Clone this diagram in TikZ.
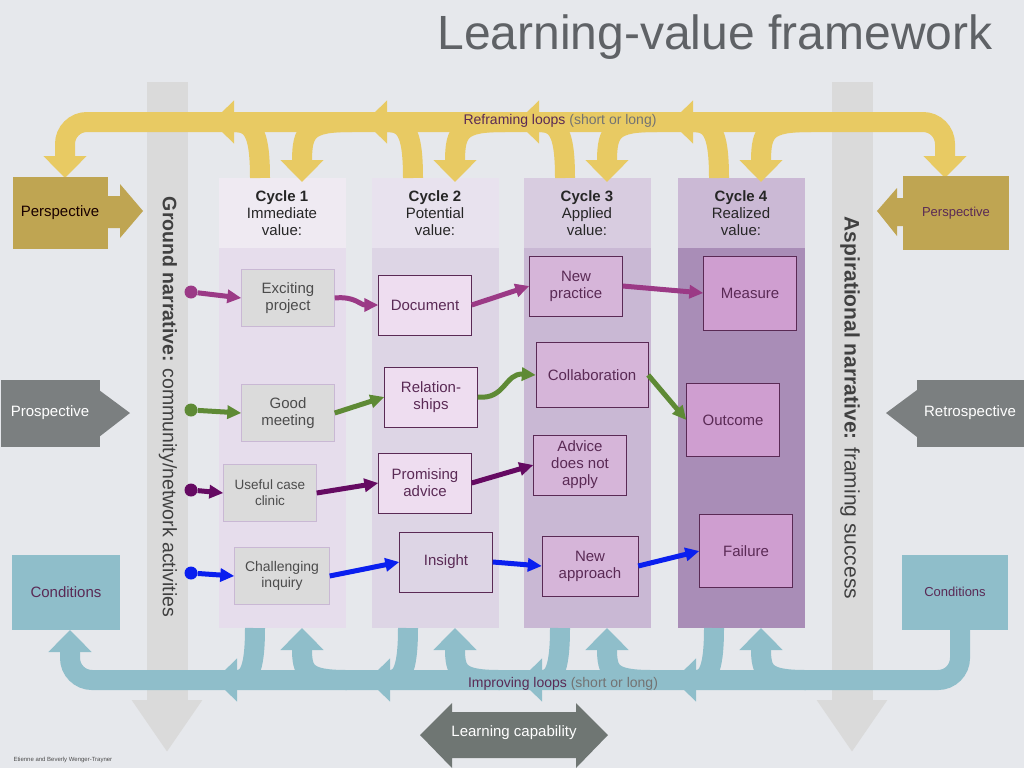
\documentclass[tikz,border=0pt]{standalone}
\usepackage{fontspec}
\setmainfont{Liberation Sans}
\usetikzlibrary{arrows.meta}
\definecolor{bgc}{HTML}{E6E8EC}
\definecolor{titc}{HTML}{5F6266}
\definecolor{yl}{HTML}{E8CA63}
\definecolor{bl}{HTML}{8FBECA}
\definecolor{gbar}{HTML}{DADADA}
\definecolor{persp}{HTML}{BFA552}
\definecolor{prosp}{HTML}{7B7F80}
\definecolor{hdA}{HTML}{EFEAF2}\definecolor{bdA}{HTML}{E6DDEC}
\definecolor{hdB}{HTML}{E8E2EE}\definecolor{bdB}{HTML}{DDD5E5}
\definecolor{hdC}{HTML}{D8CCE0}\definecolor{bdC}{HTML}{C9B8D4}
\definecolor{hdD}{HTML}{CBB9D5}\definecolor{bdD}{HTML}{A98DB7}
\definecolor{nodeB}{HTML}{EEDDF0}
\definecolor{nodeC}{HTML}{D6B5D9}
\definecolor{nodeD}{HTML}{CF9ED0}
\definecolor{rowa}{HTML}{9B3A86}
\definecolor{rowb}{HTML}{5E8A35}
\definecolor{rowc}{HTML}{650A62}
\definecolor{rowd}{HTML}{0A1FEF}
\definecolor{txt}{HTML}{5A2A55}
\definecolor{capc}{HTML}{6F7673}
\tikzset{
  yloop/.style={draw=yl,line width=20pt,rounded corners=22pt},
  bloop/.style={draw=bl,line width=20pt,rounded corners=22pt},
  tip/.style={-{Triangle[width=42pt,length=22pt]}},
  gray box/.style={draw=bdC,fill=black!14,minimum width=93pt,minimum height=57pt,align=center,text=black!70,font=\fontsize{15}{17}\selectfont},
  pink box/.style={draw=txt,fill=#1,minimum width=93pt,minimum height=60pt,align=center,text=txt,font=\fontsize{15}{17}\selectfont},
  head/.style={align=center,font=\fontsize{15}{17}\selectfont,text=black!85},
  flow/.style={line width=5pt,-{Triangle[width=13pt,length=14pt]}},
  dot/.style={circle,fill=#1,inner sep=0pt,minimum size=13pt},
  side/.style={fill=#1,minimum width=95pt,minimum height=72pt,inner sep=0pt,font=\fontsize{15}{17}\selectfont}
}
\begin{document}
\begin{tikzpicture}[x=1pt,y=-1pt]
\useasboundingbox (0,0) rectangle (1024,768);
\fill[bgc] (0,0) rectangle (1024,768);
\node[anchor=east,text=titc,font=\fontsize{48}{52}\selectfont] (title) at (996,37) {Learning-value framework};
% grey narrative bars
\draw[gbar,line width=41pt,-{Triangle[width=67pt,length=52pt]}] (167,82) -- (167,752);
\draw[gbar,line width=41pt,-{Triangle[width=67pt,length=52pt]}] (852,82) -- (852,752);
% columns
\foreach \xa/\hd/\bd in {219/hdA/bdA,372/hdB/bdB,524/hdC/bdC,678/hdD/bdD}{
  \fill[\bd] (\xa,248) rectangle ++(127,380);
  \fill[\hd] (\xa,178) rectangle ++(127,70);
}
\node[head] (c1) at (282,213) {\textbf{Cycle 1}\\Immediate\\value:};
\node[head] (c2) at (435,213) {\textbf{Cycle 2}\\Potential\\value:};
\node[head] (c3) at (587,213) {\textbf{Cycle 3}\\Applied\\value:};
\node[head] (c4) at (741,213) {\textbf{Cycle 4}\\Realized\\value:};
% reframing loops
\draw[yloop,tip] (520,122) -- (65,122) -- (65,178);
\draw[yloop,tip] (520,122) -- (945,122) -- (945,178);
\foreach \c in {282,435,587,741}{
  \draw[yloop,rounded corners=0pt,tip] (\c-22,178) .. controls (\c-22,130) and (\c-30,122) .. (\c-70,122);
  \draw[yloop,rounded corners=0pt,tip] (\c+70,122) .. controls (\c+26,122) and (\c+20,130) .. (\c+20,182);
}
% improving loops
\draw[bloop,tip] (960,630) -- (960,680) -- (70,680) -- (70,630);
\foreach \c in {282,435,587,741}{
  \draw[bloop,rounded corners=0pt,tip] (\c-27,628) .. controls (\c-27,675) and (\c-35,680) .. (\c-67,680);
  \draw[bloop,rounded corners=0pt,tip] (\c+65,680) .. controls (\c+24,680) and (\c+20,672) .. (\c+20,628);
}
\node[font=\fontsize{14}{16}\selectfont,text=txt] (reframe) at (560,121) {Reframing loops \textcolor{black!55}{(short or long)}};
\node[font=\fontsize{14}{16}\selectfont,text=txt] (improve) at (563,684) {Improving loops \textcolor{black!55}{(short or long)}};
% narratives
\node[rotate=-90,font=\fontsize{19.5}{21}\selectfont,text=black!75] (ground) at (168,407) {\textbf{Ground narrative:} community/network activities};
\node[rotate=-90,font=\fontsize{21}{23}\selectfont,text=black!75] (aspire) at (850,408) {\textbf{Aspirational narrative:} framing success};
% side boxes
\node[side=persp,text=black!75!red!40!black] (perspL) at (60,213) {Perspective};
\fill[persp] (107,196) -- (120,196) -- (120,184) -- (143,211) -- (120,238) -- (120,228) -- (107,228) -- cycle;
\node[side=persp,text=txt,font=\fontsize{13}{15}\selectfont,minimum width=106pt,minimum height=74pt] (perspR) at (956,213) {Perspective};
\fill[persp] (903,198) -- (897,198) -- (897,188) -- (877,211) -- (897,236) -- (897,226) -- (903,226) -- cycle;
\node[side=prosp,text=white,minimum width=99pt,minimum height=67pt] (prosp) at (50,413) {Prospective};
\fill[prosp] (99,390) -- (130,413) -- (99,437) -- cycle;
\node[side=prosp,text=white,minimum width=107pt,minimum height=67pt] (retro) at (970,413) {Retrospective};
\fill[prosp] (917,390) -- (886,413) -- (917,437) -- cycle;
\node[side=bl,text=txt,minimum width=108pt,minimum height=75pt] (condL) at (66,592) {Conditions};
\node[side=bl,text=txt,font=\fontsize{13}{15}\selectfont,minimum width=106pt,minimum height=75pt] (condR) at (955,592) {Conditions};
% value nodes
\node[gray box] (exciting) at (288,298) {Exciting\\project};
\node[gray box] (meeting) at (288,413) {Good\\meeting};
\node[gray box,font=\fontsize{13.5}{16}\selectfont] (clinic) at (270,493) {Useful case\\clinic};
\node[gray box,font=\fontsize{14}{16}\selectfont,minimum width=95pt] (inquiry) at (282,576) {Challenging\\inquiry};
\node[pink box=nodeB] (document) at (425,305) {Document};
\node[pink box=nodeB] (relations) at (431,397) {Relation-\\ships};
\node[pink box=nodeB] (promising) at (425,483) {Promising\\advice};
\node[pink box=bdB] (insight) at (446,562) {Insight};
\node[pink box=nodeC] (practice) at (576,286) {New\\practice};
\node[pink box=nodeC,minimum width=112pt,minimum height=65pt] (collab) at (592,375) {Collaboration};
\node[pink box=nodeC] (noapply) at (580,465) {Advice\\does not\\apply};
\node[pink box=nodeC,minimum width=96pt] (approach) at (590,566) {New\\approach};
\node[pink box=nodeD,minimum height=74pt] (measure) at (750,293) {Measure};
\node[pink box=nodeD,minimum height=73pt] (outcome) at (733,420) {Outcome};
\node[pink box=nodeD,minimum height=73pt] (failure) at (746,551) {Failure};
% flows
\node[dot=rowa] (sa) at (191,292) {};
\node[dot=rowb] (sb) at (191,410) {};
\node[dot=rowc] (sc) at (191,490) {};
\node[dot=rowd] (sd) at (191,573) {};
\draw[flow,rowa] (sa) -- (exciting.west);
\draw[flow,rowa] (exciting.east) .. controls (355,296) and (360,305) .. (document.west);
\draw[flow,rowa] (document.east) -- (practice.west);
\draw[flow,rowa] (practice.east) -- (measure.west);
\draw[flow,rowb] (sb) -- (meeting.west);
\draw[flow,rowb] (meeting.east) -- (relations.west);
\draw[flow,rowb] (relations.east) .. controls (505,400) and (505,373) .. (collab.west);
\draw[flow,rowb] (collab.east) -- (outcome.west);
\draw[flow,rowc] (sc) -- (clinic.west);
\draw[flow,rowc] (clinic.east) -- (promising.west);
\draw[flow,rowc] (promising.east) -- (noapply.west);
\draw[flow,rowd] (sd) -- (inquiry.west);
\draw[flow,rowd] (inquiry.east) -- (insight.west);
\draw[flow,rowd] (insight.east) -- (approach.west);
\draw[flow,rowd] (approach.east) -- (failure.west);
% learning capability
\fill[capc] (420,735) -- (452,703) -- (452,712) -- (576,712) -- (576,703) -- (608,735) -- (576,768) -- (576,758) -- (452,758) -- (452,768) -- cycle;
\node[text=white,font=\fontsize{15}{17}\selectfont] (capab) at (514,733) {Learning capability};
\node[font=\fontsize{6}{7}\selectfont,text=black!70,anchor=west] (credit) at (10,760) {Etienne and Beverly Wenger-Trayner};
\end{tikzpicture}
\end{document}
